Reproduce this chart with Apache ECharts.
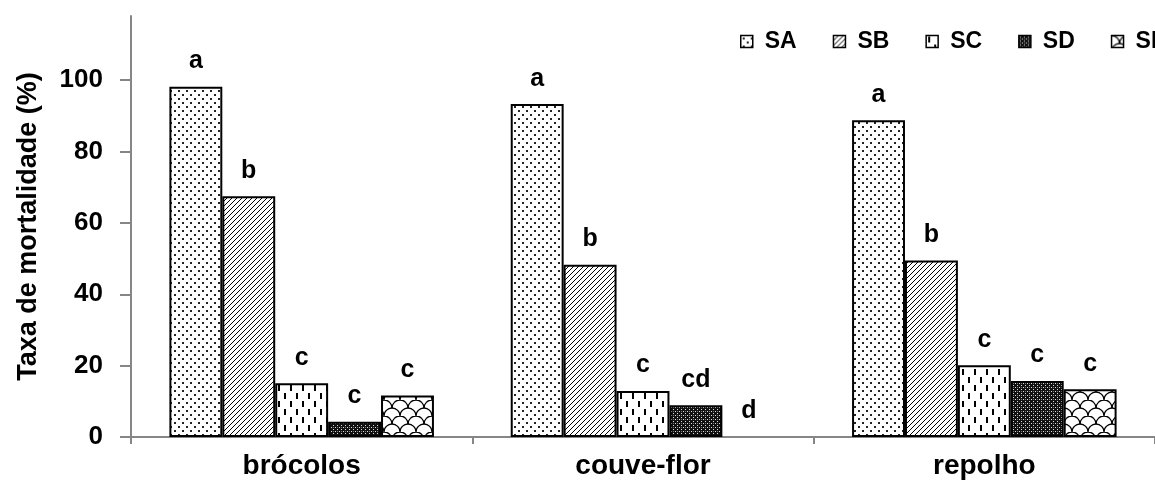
<!DOCTYPE html>
<html>
<head>
<meta charset="utf-8">
<script src="https://cdn.jsdelivr.net/npm/echarts@6/dist/echarts.min.js"></script>
<style>html,body{margin:0;padding:0;background:#fff;}#c{width:1155px;height:484px;}</style>
</head>
<body>
<div id="c"></div>
<script>
var categories = ['brócolos', 'couve-flor', 'repolho'];
var seriesNames = ['SA', 'SB', 'SC', 'SD', 'SE'];
var SA = [98.2, 93.3, 88.8];
var SB = [67.5, 48.3, 49.5];
var SC = [15.1, 12.9, 20.1];
var SD = [4.3, 8.9, 15.7];
var SE = [11.6, 0, 13.4];
var lettersSA = ['a', 'a', 'a'];
var lettersSB = ['b', 'b', 'b'];
var lettersSC = ['c', 'c', 'c'];
var lettersSD = ['c', 'cd', 'c'];
var lettersSE = ['c', 'd', 'c'];
var yTicks = [0, 20, 40, 60, 80, 100];

var FONT = 'Liberation Sans, Arial, sans-serif';

function tile(w, h, draw) {
  var c = document.createElement('canvas');
  c.width = w; c.height = h;
  var ctx = c.getContext('2d');
  ctx.fillStyle = '#fff';
  ctx.fillRect(0, 0, w, h);
  draw(ctx, w, h);
  return {image: c, repeat: 'repeat'};
}
var patA = tile(8, 8, function (ctx) {
  ctx.fillStyle = '#222';
  ctx.fillRect(2, 2, 2, 2);
  ctx.fillRect(6, 6, 2, 2);
});
var patB = tile(5, 5, function (ctx) {
  ctx.strokeStyle = '#000'; ctx.lineWidth = 1;
  ctx.beginPath();
  ctx.moveTo(-1, 6); ctx.lineTo(6, -1);
  ctx.moveTo(-1, 1); ctx.lineTo(1, -1);
  ctx.moveTo(4, 6); ctx.lineTo(6, 4);
  ctx.stroke();
});
var patC = tile(12, 16, function (ctx) {
  ctx.fillStyle = '#000';
  ctx.fillRect(2, 1, 2, 6);
  ctx.fillRect(8, 9, 2, 6);
});
var patD = tile(4, 4, function (ctx) {
  ctx.fillStyle = '#111';
  ctx.fillRect(0, 0, 4, 4);
  ctx.fillStyle = '#ddd';
  ctx.fillRect(1, 1, 1, 1);
  ctx.fillRect(3, 3, 1, 1);
  ctx.fillStyle = '#777';
  ctx.fillRect(1, 3, 1, 1);
});
var patE = tile(16, 16, function (ctx) {
  ctx.strokeStyle = '#000'; ctx.lineWidth = 1.3;
  ctx.beginPath(); ctx.arc(8, 16, 8, Math.PI, 2 * Math.PI); ctx.stroke();
  ctx.beginPath(); ctx.arc(0, 8, 8, Math.PI, 2 * Math.PI); ctx.stroke();
  ctx.beginPath(); ctx.arc(16, 8, 8, Math.PI, 2 * Math.PI); ctx.stroke();
});

function mk(name, data, letters, pat) {
  return {
    name: name,
    type: 'bar',
    data: data.map(function (v) {
      return v === 0 ? {value: v, itemStyle: {borderWidth: 0}} : v;
    }),
    barGap: '0%',
    barCategoryGap: '22.5%',
    itemStyle: {color: pat, borderColor: '#000', borderWidth: 2},
    label: {
      show: true,
      position: 'top',
      distance: 13,
      color: '#000',
      fontFamily: FONT,
      fontWeight: 'bold',
      fontSize: 25,
      formatter: function (p) { return letters[p.dataIndex]; }
    }
  };
}

var chart = echarts.init(document.getElementById('c'), null, {renderer: 'canvas'});
chart.setOption({
  animation: false,
  backgroundColor: '#fff',
  grid: {left: 131, right: -2, top: 16, bottom: 47, containLabel: false},
  legend: {
    left: 735, top: 25, width: 560,
    orient: 'horizontal',
    itemWidth: 12, itemHeight: 12, itemGap: 36,
    icon: 'rect',
    itemStyle: {borderWidth: 1.5, borderColor: '#000'},
    textStyle: {fontFamily: FONT, fontSize: 23, color: '#000', fontWeight: 'bold', padding: [0, 0, 0, 7]},
    data: seriesNames
  },
  xAxis: {
    type: 'category',
    data: categories,
    axisLine: {lineStyle: {color: '#868686', width: 2}},
    axisTick: {show: true, length: 7, lineStyle: {color: '#868686', width: 2}},
    axisLabel: {fontFamily: FONT, fontWeight: 'bold', fontSize: 28, color: '#000', margin: 15}
  },
  yAxis: {
    type: 'value',
    min: 0, max: 118, interval: 20,
    name: 'Taxa de mortalidade (%)',
    nameLocation: 'middle',
    nameGap: 89,
    nameTextStyle: {fontFamily: FONT, fontWeight: 'bold', fontSize: 27, color: '#000'},
    axisLine: {show: true, lineStyle: {color: '#868686', width: 2}},
    axisTick: {show: true, length: 11, customValues: yTicks, lineStyle: {color: '#868686', width: 2}},
    axisLabel: {fontFamily: FONT, fontWeight: 'bold', fontSize: 26, color: '#000', margin: 28, customValues: yTicks},
    splitLine: {show: false}
  },
  series: [
    mk('SA', SA, lettersSA, patA),
    mk('SB', SB, lettersSB, patB),
    mk('SC', SC, lettersSC, patC),
    mk('SD', SD, lettersSD, patD),
    mk('SE', SE, lettersSE, patE)
  ]
});
</script>
</body>
</html>
